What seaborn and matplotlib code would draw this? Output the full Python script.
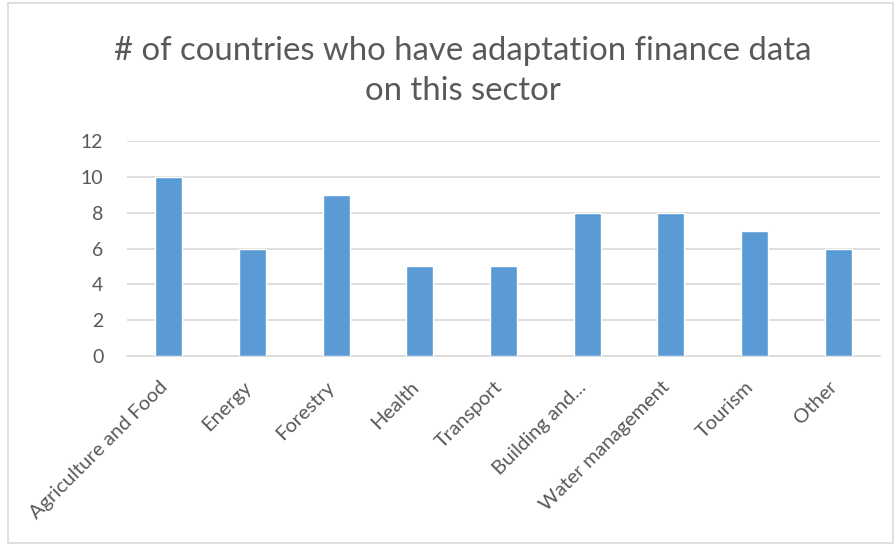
import matplotlib
matplotlib.use("Agg")
import matplotlib.pyplot as plt
import matplotlib.transforms as mtransforms
import seaborn as sns
import pandas as pd
from matplotlib.patches import Rectangle

# chart data
sectors = ["Agriculture and Food", "Energy", "Forestry", "Health", "Transport",
           "Building and...", "Water management", "Tourism", "Other"]
counts = [10, 6, 9, 5, 5, 8, 8, 7, 6]
y_ticks = [0, 2, 4, 6, 8, 10, 12]

title = "# of countries who have adaptation finance data\non this sector"

sns.set_theme(style="white")
plt.rcParams['font.family'] = ['Lato', 'DejaVu Sans']

df = pd.DataFrame({"sector": sectors, "count": counts})

fig = plt.figure(figsize=(8.96, 5.46), dpi=100)
ax = fig.add_axes([127 / 896, 1 - 356 / 546, (880 - 127) / 896, (356 - 141) / 546])

sns.barplot(data=df, x="sector", y="count", color="#5b9bd5", saturation=1,
            width=0.32, ax=ax, zorder=3)

ax.set_ylim(0, 12)
ax.set_xlim(-0.5, len(sectors) - 0.5)
ax.set_yticks(y_ticks)
ax.yaxis.grid(True, color="#d9d9d9", linewidth=1.2, zorder=0)
ax.set_axisbelow(True)
for s in ["top", "right", "left"]:
    ax.spines[s].set_visible(False)
ax.spines["bottom"].set_color("#d9d9d9")
ax.spines["bottom"].set_linewidth(1.2)
ax.set_xlabel("")
ax.set_ylabel("")
ax.tick_params(axis="both", length=0, colors="#595959")
ax.tick_params(axis="y", pad=17, labelsize=14)
ax.tick_params(axis="x", pad=16, labelsize=14.5)

# shift rotated labels a little left so their ends sit under the ticks
shift = mtransforms.ScaledTranslation(-10 / 100, 0, fig.dpi_scale_trans)
for lbl in ax.get_xticklabels():
    lbl.set_rotation(45)
    lbl.set_ha("right")
    lbl.set_va("top")
    lbl.set_rotation_mode("anchor")
    lbl.set_transform(lbl.get_transform() + shift)

fig.text(463 / 896, 1 - 100 / 546, title, ha="center", va="baseline",
         fontsize=23.7, color="#595959", linespacing=1.4)

# outer chart border
fig.patches.append(Rectangle((8 / 896, 3 / 546), 885 / 896, 540 / 546,
                             transform=fig.transFigure, fill=False,
                             edgecolor="#d9d9d9", linewidth=1.2))

fig.savefig("out.png", dpi=100, facecolor="white")
